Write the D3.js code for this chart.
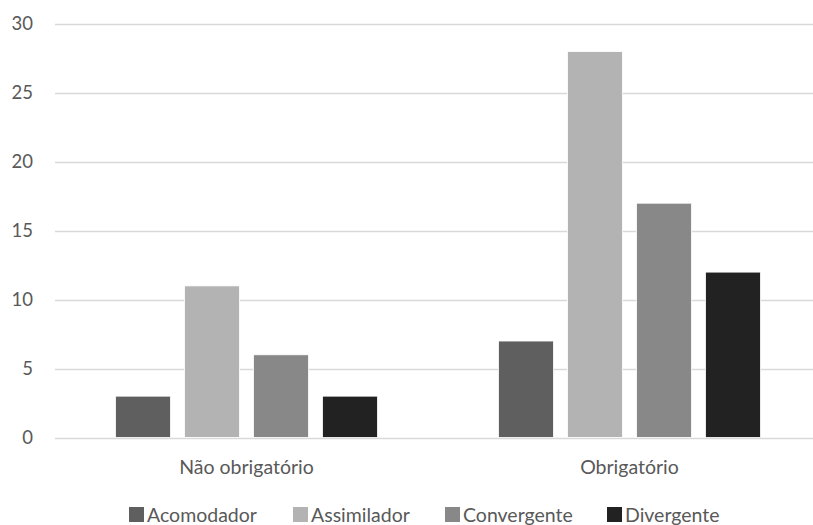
<!DOCTYPE html>
<html><head><meta charset="utf-8">
<script src="https://cdn.jsdelivr.net/npm/d3@7"></script>
<style>body{margin:0;background:#fff}svg{display:block}</style>
</head><body>
<script>
const categories = ["Não obrigatório", "Obrigatório"];
const seriesNames = ["Acomodador", "Assimilador", "Convergente", "Divergente"];
const acomodador = [3, 7];
const assimilador = [11, 28];
const convergente = [6, 17];
const divergente = [3, 12];
const yTicks = [0, 5, 10, 15, 20, 25, 30];
const colors = ["#5f5f5f", "#b3b3b3", "#888888", "#222222"];
const seriesValues = [acomodador, assimilador, convergente, divergente];

const W = 813, H = 525;
const svg = d3.select("body").append("svg").attr("width", W).attr("height", H);
const font = "Lato, 'Open Sans', sans-serif";
const textColor = "#595959";

const y = d3.scaleLinear().domain([0, 30]).range([437.5, 24]);
const x0 = d3.scaleBand().domain(categories).range([55, 821]).paddingInner(0).paddingOuter(0);
const groupW = 262;
const x1 = d3.scaleBand().domain(seriesNames).range([0, groupW]).paddingInner(0.203).paddingOuter(0);

// gridlines
svg.append("g").selectAll("line").data(yTicks).join("line")
  .attr("x1", 55).attr("x2", W)
  .attr("y1", d => Math.round(y(d)) + 0.5).attr("y2", d => Math.round(y(d)) + 0.5)
  .attr("stroke", "#d9d9d9").attr("stroke-width", 1.3);

// y axis labels
const yAxis = d3.axisLeft(y).tickValues(yTicks).tickSize(0).tickPadding(0);
const ya = svg.append("g").attr("transform", "translate(33,0)").call(yAxis);
ya.select(".domain").remove();
ya.selectAll("text").attr("font-family", font).attr("font-size", 18.5).attr("fill", textColor);

// bars
const groups = svg.append("g").selectAll("g").data(categories).join("g")
  .attr("transform", c => `translate(${x0(c) + x0.bandwidth() / 2 - groupW / 2},0)`);
groups.selectAll("rect")
  .data((c, ci) => seriesNames.map((s, si) => ({ s, si, v: seriesValues[si][ci] })))
  .join("rect")
  .attr("x", d => x1(d.s))
  .attr("width", x1.bandwidth())
  .attr("y", d => y(d.v))
  .attr("height", d => y(0) - y(d.v))
  .attr("fill", d => colors[d.si])
  .attr("stroke", "#ffffff").attr("stroke-width", 0.8);

// x axis labels
const xAxis = d3.axisBottom(x0).tickSize(0).tickPadding(0);
const xa = svg.append("g").attr("transform", "translate(0,474)").call(xAxis);
xa.select(".domain").remove();
xa.selectAll("text").attr("font-family", font).attr("font-size", 19.5).attr("fill", textColor).attr("dy", "0");

// legend
const legendX = [129, 293, 445, 607];
const leg = svg.append("g").selectAll("g").data(seriesNames).join("g")
  .attr("transform", (d, i) => `translate(${legendX[i]},507)`);
leg.append("rect").attr("width", 15).attr("height", 15).attr("fill", (d, i) => colors[i]);
leg.append("text").attr("x", 18).attr("y", 15).text(d => d)
  .attr("font-family", font).attr("font-size", 19.5).attr("fill", textColor);
</script>
</body></html>
